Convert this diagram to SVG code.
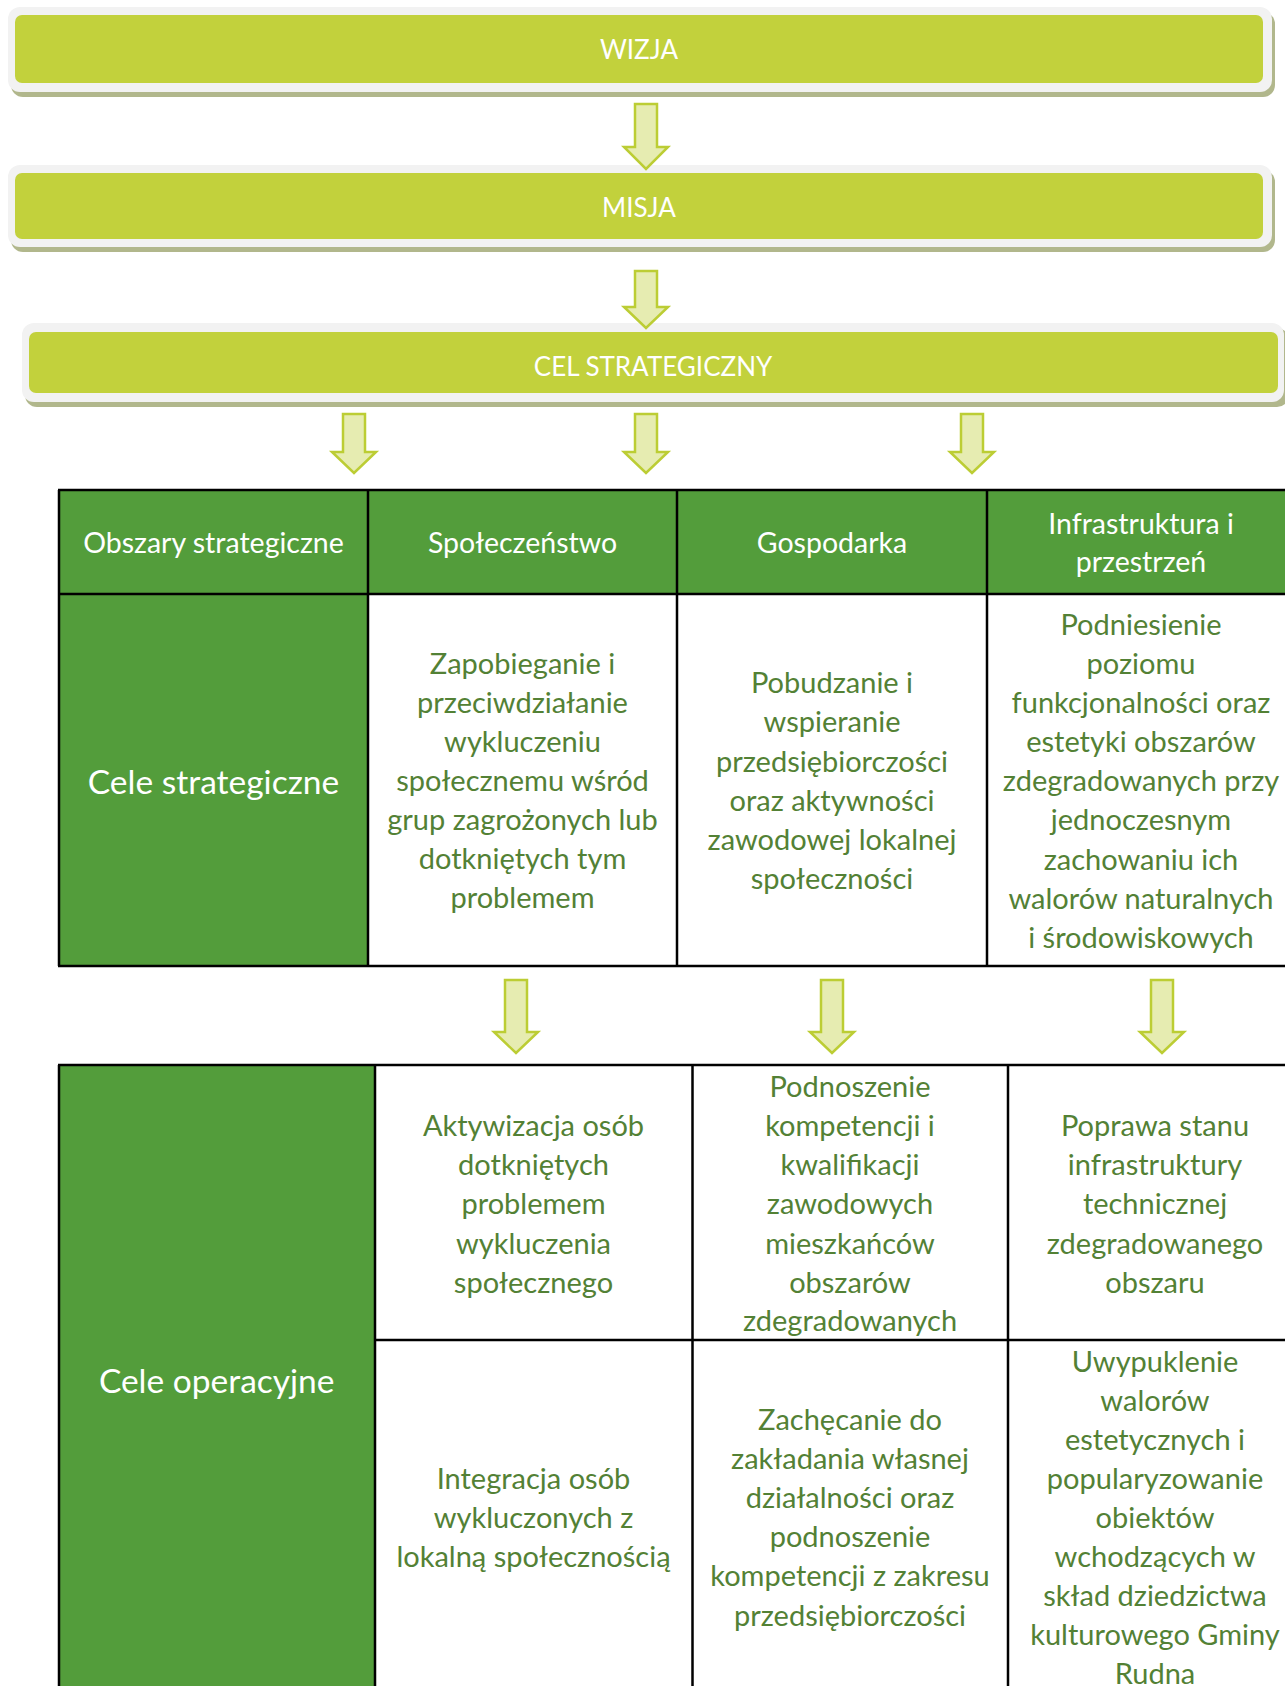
<svg xmlns="http://www.w3.org/2000/svg" width="1285" height="1686" viewBox="0 0 1285 1686">
<style>
.shadow{fill:#b1b78c}
.frame{fill:#f2f2f2}
.band{fill:#c2d13c}
.bandtxt{font-family:Lato,"Liberation Sans",sans-serif;font-size:26px;fill:#ffffff;text-anchor:middle}
.arrow{fill:#e6ecb1;stroke:#bccd34;stroke-width:2.5;stroke-linejoin:miter}
.gfill{fill:#539d3b}
.line{stroke:#000000;stroke-width:2.5;fill:none}
.hdr{font-family:Lato,"Liberation Sans",sans-serif;font-size:28.5px;fill:#ffffff;text-anchor:middle}
.big{font-family:Lato,"Liberation Sans",sans-serif;font-size:33.5px;fill:#ffffff;text-anchor:middle}
.cell{font-family:Lato,"Liberation Sans",sans-serif;font-size:29px;fill:#538135;text-anchor:middle}
</style>

<g id="wizja">
<rect class="shadow" x="11" y="12" width="1264" height="85" rx="12"/>
<rect class="frame" x="8" y="7" width="1264" height="85" rx="12"/>
<rect class="band" x="15" y="15" width="1248" height="68" rx="7"/>
<text class="bandtxt" x="639" y="59">WIZJA</text>
</g>

<g id="misja">
<rect class="shadow" x="11" y="170" width="1264" height="82" rx="12"/>
<rect class="frame" x="8" y="165" width="1264" height="82" rx="12"/>
<rect class="band" x="15" y="173" width="1248" height="66" rx="7"/>
<text class="bandtxt" x="639" y="217">MISJA</text>
</g>

<g id="cel-strategiczny">
<rect class="shadow" x="25" y="328" width="1264" height="79" rx="12"/>
<rect class="frame" x="22" y="323" width="1262" height="79" rx="12"/>
<rect class="band" x="29" y="332" width="1249" height="61" rx="7"/>
<text class="bandtxt" x="653" y="376">CEL STRATEGICZNY</text>
</g>

<g id="connectors">
<path class="arrow" d="M635 104 H657 V147 H668 L646 169 L624 147 H635 Z"/>
<path class="arrow" d="M635 271 H657 V307 H668 L646 328 L624 307 H635 Z"/>
<path class="arrow" d="M343 414 H365 V452 H376 L354 473 L332 452 H343 Z"/>
<path class="arrow" d="M635 414 H657 V452 H668 L646 473 L624 452 H635 Z"/>
<path class="arrow" d="M961 414 H983 V452 H994 L972 473 L950 452 H961 Z"/>
<path class="arrow" d="M505 980 H527 V1032 H538 L516 1053 L494 1032 H505 Z"/>
<path class="arrow" d="M821 980 H843 V1032 H854 L832 1053 L810 1032 H821 Z"/>
<path class="arrow" d="M1151 980 H1173 V1032 H1184 L1162 1053 L1140 1032 H1151 Z"/>
</g>

<g id="table-strategic">
<rect class="gfill" x="59" y="490" width="1240" height="104"/>
<rect class="gfill" x="59" y="594" width="309" height="372"/>
<path class="line" d="M58 490 H1285 M58 594 H1285 M58 966 H1285 M59 490 V966 M368 490 V966 M677 490 V966 M987 490 V966"/>
</g>

<g id="hdr-obszary"><text class="hdr" x="213.5" y="553">Obszary strategiczne</text></g>
<g id="hdr-spoleczenstwo"><text class="hdr" x="522.5" y="553">Społeczeństwo</text></g>
<g id="hdr-gospodarka"><text class="hdr" x="832" y="553">Gospodarka</text></g>
<g id="hdr-infrastruktura"><text class="hdr" x="1141" y="534">Infrastruktura i</text><text class="hdr" x="1141" y="572">przestrzeń</text></g>

<g id="cele-strategiczne"><text class="big" x="213.5" y="794">Cele strategiczne</text></g>

<g id="cs-spoleczenstwo">
<text class="cell" x="522.5" y="674">Zapobieganie i</text>
<text class="cell" x="522.5" y="713">przeciwdziałanie</text>
<text class="cell" x="522.5" y="752">wykluczeniu</text>
<text class="cell" x="522.5" y="791">społecznemu wśród</text>
<text class="cell" x="522.5" y="830">grup zagrożonych lub</text>
<text class="cell" x="522.5" y="869">dotkniętych tym</text>
<text class="cell" x="522.5" y="908">problemem</text>
</g>

<g id="cs-gospodarka">
<text class="cell" x="832" y="693">Pobudzanie i</text>
<text class="cell" x="832" y="732">wspieranie</text>
<text class="cell" x="832" y="771.5">przedsiębiorczości</text>
<text class="cell" x="832" y="810.5">oraz aktywności</text>
<text class="cell" x="832" y="849.5">zawodowej lokalnej</text>
<text class="cell" x="832" y="888.5">społeczności</text>
</g>

<g id="cs-infrastruktura">
<text class="cell" x="1141" y="635">Podniesienie</text>
<text class="cell" x="1141" y="674">poziomu</text>
<text class="cell" x="1141" y="713">funkcjonalności oraz</text>
<text class="cell" x="1141" y="752">estetyki obszarów</text>
<text class="cell" x="1141" y="791">zdegradowanych przy</text>
<text class="cell" x="1141" y="830">jednoczesnym</text>
<text class="cell" x="1141" y="869.5">zachowaniu ich</text>
<text class="cell" x="1141" y="908.5">walorów naturalnych</text>
<text class="cell" x="1141" y="947.5">i środowiskowych</text>
</g>

<g id="table-operational">
<rect class="gfill" x="59" y="1065" width="316" height="625"/>
<path class="line" d="M58 1065 H1285 M375 1340 H1285 M59 1065 V1690 M375 1065 V1690 M692.5 1065 V1690 M1008 1065 V1690"/>
</g>

<g id="cele-operacyjne"><text class="big" x="216.7" y="1393">Cele operacyjne</text></g>

<g id="co-1-1">
<text class="cell" x="533.5" y="1136">Aktywizacja osób</text>
<text class="cell" x="533.5" y="1175">dotkniętych</text>
<text class="cell" x="533.5" y="1214">problemem</text>
<text class="cell" x="533.5" y="1253.5">wykluczenia</text>
<text class="cell" x="533.5" y="1292.5">społecznego</text>
</g>

<g id="co-2-1">
<text class="cell" x="850" y="1096.5">Podnoszenie</text>
<text class="cell" x="850" y="1136">kompetencji i</text>
<text class="cell" x="850" y="1175">kwalifikacji</text>
<text class="cell" x="850" y="1214">zawodowych</text>
<text class="cell" x="850" y="1253.5">mieszkańców</text>
<text class="cell" x="850" y="1292.5">obszarów</text>
<text class="cell" x="850" y="1331">zdegradowanych</text>
</g>

<g id="co-3-1">
<text class="cell" x="1155" y="1136">Poprawa stanu</text>
<text class="cell" x="1155" y="1175">infrastruktury</text>
<text class="cell" x="1155" y="1214">technicznej</text>
<text class="cell" x="1155" y="1253.5">zdegradowanego</text>
<text class="cell" x="1155" y="1292.5">obszaru</text>
</g>

<g id="co-1-2">
<text class="cell" x="533.5" y="1489">Integracja osób</text>
<text class="cell" x="533.5" y="1528">wykluczonych z</text>
<text class="cell" x="533.5" y="1566.5">lokalną społecznością</text>
</g>

<g id="co-2-2">
<text class="cell" x="850" y="1430">Zachęcanie do</text>
<text class="cell" x="850" y="1469">zakładania własnej</text>
<text class="cell" x="850" y="1508">działalności oraz</text>
<text class="cell" x="850" y="1547">podnoszenie</text>
<text class="cell" x="850" y="1586">kompetencji z zakresu</text>
<text class="cell" x="850" y="1625.5">przedsiębiorczości</text>
</g>

<g id="co-3-2">
<text class="cell" x="1155" y="1371.5">Uwypuklenie</text>
<text class="cell" x="1155" y="1410.5">walorów</text>
<text class="cell" x="1155" y="1449.5">estetycznych i</text>
<text class="cell" x="1155" y="1489">popularyzowanie</text>
<text class="cell" x="1155" y="1528">obiektów</text>
<text class="cell" x="1155" y="1567">wchodzących w</text>
<text class="cell" x="1155" y="1606">skład dziedzictwa</text>
<text class="cell" x="1155" y="1645">kulturowego Gminy</text>
<text class="cell" x="1155" y="1684">Rudna</text>
</g>
</svg>
